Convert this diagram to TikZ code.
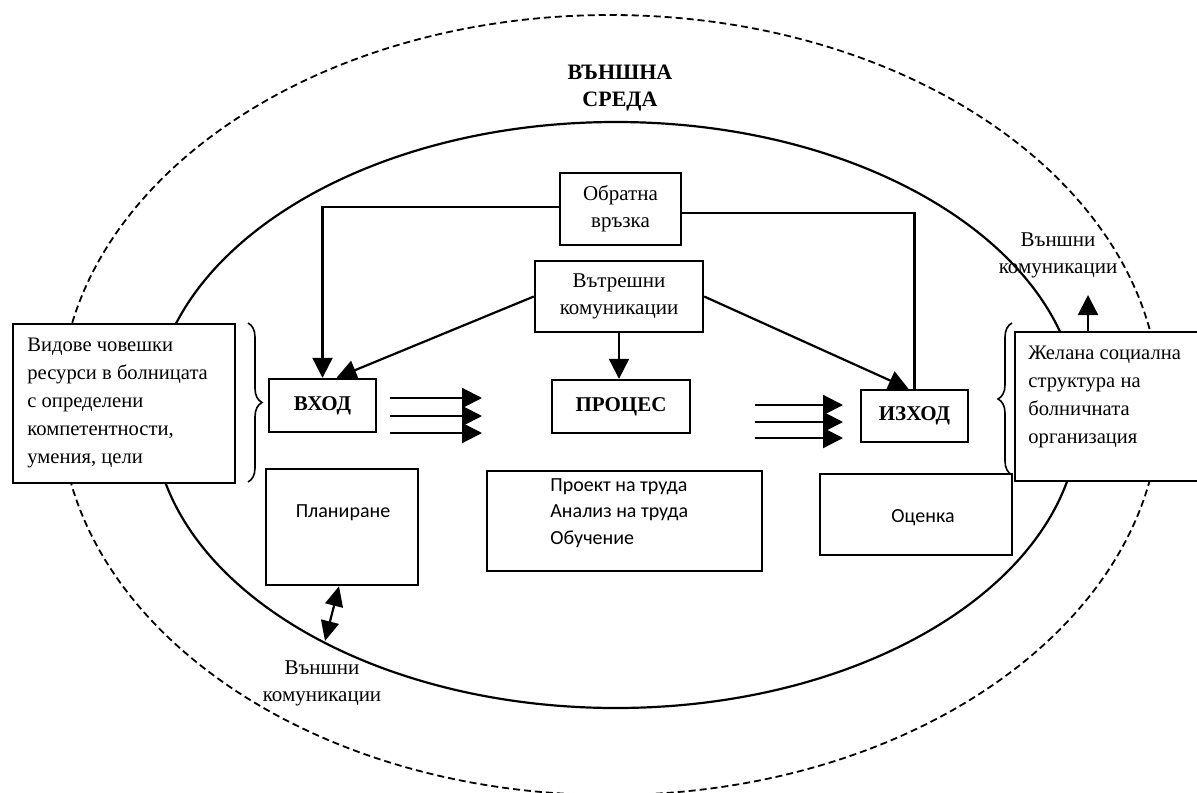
\documentclass[tikz,border=0pt]{standalone}
\usepackage{fontspec}
\setmainfont{Liberation Serif}
\newfontfamily\sansf{Carlito}
\usetikzlibrary{arrows.meta,decorations.pathreplacing}
\begin{document}
\begin{tikzpicture}[x=0.5pt,y=-0.5pt,
  box/.style={draw,line width=1.2pt,fill=white,inner sep=0pt},
  serf/.style={inner sep=0pt,font=\fontsize{10.5}{13.5}\selectfont},
  btxt/.style={inner sep=0pt,font=\fontsize{10.3}{14}\selectfont},
  capl/.style={inner sep=0pt,font=\bfseries\fontsize{10.5}{13}\selectfont},
  sanst/.style={inner sep=0pt,font=\sansf\fontsize{10}{13.25}\selectfont},
  arr/.style={line width=1.1pt,-{Triangle[length=10pt,width=10pt]}},
  dbl/.style={line width=1.1pt,{Triangle[length=10pt,width=9pt]}-{Triangle[length=10pt,width=9pt]}},
  brc/.style={line width=0.8pt,decorate,decoration={brace,amplitude=7pt}}]
\clip (0,0) rectangle (1197,792);
\fill[white] (0,0) rectangle (1197,792);
% environment
\draw[line width=0.9pt,dash pattern=on 3.5pt off 2pt] (610,405) ellipse [x radius=275pt,y radius=195pt];
\draw[line width=1.1pt] (616,415) ellipse [x radius=231.5pt,y radius=146.5pt];
% boxes
\node[box,minimum width=60.5pt,minimum height=36pt,serf,align=center] (obr) at (620.5,209) {Обратна\\връзка};
\node[box,minimum width=84pt,minimum height=35.5pt,serf,align=center] (vtr) at (619,296.5) {Вътрешни\\комуникации};
\node[box,minimum width=53.5pt,minimum height=26.5pt,capl] (vhod) at (322.5,405.5) {ВХОД};
\node[box,minimum width=69pt,minimum height=26.5pt,capl] (proc) at (621,406.5) {ПРОЦЕС};
\node[box,minimum width=53.5pt,minimum height=26pt,capl] (izhod) at (914.5,416) {ИЗХОД};
\node[box,minimum width=111pt,minimum height=79.5pt] (left) at (124,403.5) {};
\node[box,minimum width=76pt,minimum height=58pt] (plan) at (342,527) {};
\node[box,minimum width=137.5pt,minimum height=50pt] (prtext) at (624.5,521) {};
\node[box,minimum width=96pt,minimum height=40.5pt] (ocen) at (916,514.5) {};
\node[box,minimum width=100pt,minimum height=74.5pt] (right) at (1115,406.5) {};
% texts
\node[serf,align=center] (sreda) at (620,88) {\bfseries\fontsize{11}{13}\selectfont ВЪНШНА\\\bfseries\fontsize{11}{13}\selectfont СРЕДА};
\node[serf,align=center] (vk1) at (322,683) {Външни\\комуникации};
\node[serf,align=center] (vk2) at (1058,255) {Външни\\комуникации};
\node[btxt,anchor=west,align=left] (ltxt) at (27,403) {Видове човешки\\ресурси в болницата\\с определени\\компетентности,\\умения, цели};
\node[btxt,anchor=west,align=left] (rtxt) at (1028,397) {Желана социална\\структура на\\болничната\\организация};
\node[sanst,anchor=west,align=left] (ptxt) at (550,513) {Проект на труда\\Анализ на труда\\Обучение};
\node[sanst] (pltxt) at (343,513) {Планиране};
\node[sanst] (octxt) at (923,518) {Оценка};
% connectors
\draw[arr] ([yshift=1pt]obr.west) -| (vhod.north);
\draw[line width=1.1pt] ([yshift=-2pt]obr.east) -| (izhod.north);
\draw[arr] (vtr.west) -- ([xshift=7pt]vhod.north);
\draw[arr] (vtr.east) -- ([xshift=-3pt]izhod.north);
\draw[arr] (vtr.south) -- (vtr.south |- proc.north);
\coordinate (a1s) at (390,398); \coordinate (a1e) at (482,398);
\coordinate (a2s) at (390,416); \coordinate (a2e) at (482,416);
\coordinate (a3s) at (390,433); \coordinate (a3e) at (482,433);
\draw[arr] (a1s) -- (a1e);
\draw[arr] (a2s) -- (a2e);
\draw[arr] (a3s) -- (a3e);
\coordinate (b1s) at (755,405); \coordinate (b1e) at (843,405);
\coordinate (b2s) at (755,422); \coordinate (b2e) at (843,422);
\coordinate (b3s) at (755,438); \coordinate (b3e) at (843,438);
\draw[arr] (b1s) -- (b1e);
\draw[arr] (b2s) -- (b2e);
\draw[arr] (b3s) -- (b3e);
\coordinate (ext1) at (325,641);
\draw[dbl] ([xshift=-1.5pt]plan.south) -- (ext1);
\coordinate (ext2) at (1088,295);
\draw[arr] (ext2 |- right.north) -- (ext2);
% braces
\draw[brc] (248,323) -- (248,482);
\draw[brc] (1012,475) -- (1012,323);
\end{tikzpicture}
\end{document}
